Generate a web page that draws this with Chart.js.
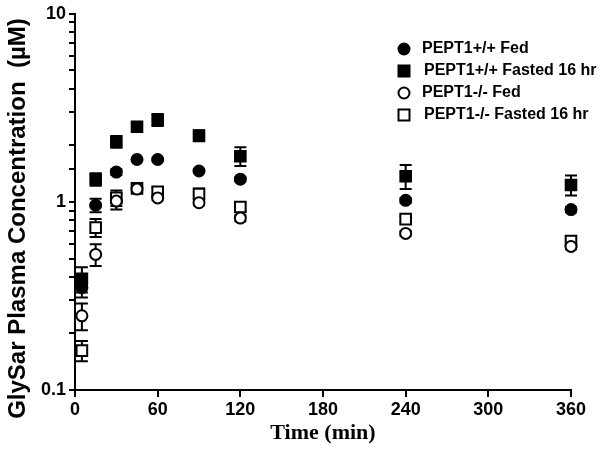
<!DOCTYPE html>
<html>
<head>
<meta charset="utf-8">
<script src="https://cdn.jsdelivr.net/npm/chart.js@4.4.0/dist/chart.umd.min.js"></script>
<style>
  html, body { margin: 0; padding: 0; background: #fff; }
</style>
</head>
<body>
<canvas id="chart" width="600" height="451"></canvas>
<script>
// sampling times (min)
const times = [5, 15, 30, 45, 60, 90, 120, 240, 360];
const xTicks = [0, 60, 120, 180, 240, 300, 360];

// GlySar plasma concentration (uM), mean and SE
const wtFed = [0.35, 0.96, 1.44, 1.68, 1.68, 1.46, 1.32, 1.02, 0.91];
const wtFedErr = [0.04, 0.08, 0.05, 0.03, 0.03, 0.03, 0.03, 0.03, 0.03];
const wtFasted = [0.39, 1.32, 2.09, 2.51, 2.73, 2.25, 1.75, 1.37, 1.23];
const wtFastedErr = [0.06, 0.1, 0.15, 0.1, 0.2, 0.15, 0.2, 0.2, 0.15];
const koFed = [0.248, 0.526, 1.01, 1.17, 1.05, 0.99, 0.82, 0.68, 0.58];
const koFedErr = [0.04, 0.07, 0.1, 0.05, 0.03, 0.03, 0.03, 0.02, 0.02];
const koFasted = [0.162, 0.73, 1.05, 1.18, 1.13, 1.10, 0.94, 0.81, 0.62];
const koFastedErr = [0.02, 0.08, 0.1, 0.05, 0.06, 0.08, 0.05, 0.03, 0.03];

const labels = ['PEPT1+/+ Fed', 'PEPT1+/+ Fasted 16 hr', 'PEPT1-/- Fed', 'PEPT1-/- Fasted 16 hr'];

function pts(vals) {
    return times.map((t, i) => ({ x: t, y: vals[i] }));
}

function series(label, vals, errs, style, filled) {
    return {
        label: label,
        data: pts(vals),
        errors: errs,
        clip: false,
        pointStyle: style,
        pointRadius: style === 'rect' ? 7.5 : 5.5,
        pointBackgroundColor: filled ? '#000' : '#fff',
        pointBorderColor: '#000',
        pointBorderWidth: 2,
        showLine: false
    };
}

// vertical error bars with caps, drawn under the markers
const errorBars = {
    id: 'errorBars',
    beforeDatasetsDraw(chart) {
        const { ctx, scales: { x, y } } = chart;
        ctx.save();
        ctx.strokeStyle = '#000';
        ctx.lineWidth = 2;
        chart.data.datasets.forEach(ds => {
            ds.data.forEach((p, i) => {
                const e = ds.errors[i];
                const px = x.getPixelForValue(p.x);
                const top = y.getPixelForValue(p.y + e);
                const bot = y.getPixelForValue(p.y - e);
                ctx.beginPath();
                ctx.moveTo(px, top); ctx.lineTo(px, bot);
                ctx.moveTo(px - 6, top); ctx.lineTo(px + 6, top);
                ctx.moveTo(px - 6, bot); ctx.lineTo(px + 6, bot);
                ctx.stroke();
            });
        });
        ctx.restore();
    }
};

// legend inside the plot, top right
const innerLegend = {
    id: 'innerLegend',
    afterDraw(chart) {
        const ctx = chart.ctx;
        ctx.save();
        ctx.font = 'bold 16px "Liberation Sans", Arial, sans-serif';
        ctx.textBaseline = 'middle';
        ctx.lineWidth = 2;
        chart.data.datasets.forEach((ds, i) => {
            const mx = 404, my = 49 + i * 22;
            ctx.beginPath();
            if (ds.pointStyle === 'rect') {
                ctx.rect(mx - 5.5, my - 5.5, 11, 11);
            } else {
                ctx.arc(mx, my, 5.5, 0, Math.PI * 2);
            }
            ctx.fillStyle = ds.pointBackgroundColor;
            ctx.fill();
            ctx.strokeStyle = '#000';
            ctx.stroke();
            ctx.fillStyle = '#000';
            ctx.fillText(ds.label, ds.pointStyle === 'rect' ? 424 : 422, my);
        });
        ctx.restore();
    }
};

new Chart(document.getElementById('chart'), {
    type: 'scatter',
    data: {
        datasets: [
            series(labels[0], wtFed, wtFedErr, 'circle', true),
            series(labels[1], wtFasted, wtFastedErr, 'rect', true),
            series(labels[2], koFed, koFedErr, 'circle', false),
            series(labels[3], koFasted, koFastedErr, 'rect', false)
        ]
    },
    options: {
        responsive: false,
        animation: false,
        layout: { padding: { top: 10, right: 29, left: 0, bottom: 0 } },
        plugins: {
            legend: { display: false },
            tooltip: { enabled: false }
        },
        scales: {
            x: {
                type: 'linear',
                min: 0,
                max: 360,
                afterBuildTicks: axis => { axis.ticks = xTicks.map(v => ({ value: v })); },
                grid: { drawOnChartArea: false, tickLength: 7, color: '#000', lineWidth: 2 },
                border: { color: '#000', width: 2 },
                ticks: {
                    color: '#000',
                    padding: 2,
                    font: { family: '"Liberation Sans", Arial, sans-serif', size: 18, weight: 'bold' }
                },
                title: {
                    display: true,
                    text: 'Time (min)',
                    color: '#000',
                    padding: { top: 6 },
                    font: { family: '"Liberation Serif", "Times New Roman", serif', size: 22, weight: 'bold' }
                },
                afterFit: axis => { axis.height = 61; }
            },
            y: {
                type: 'logarithmic',
                min: 0.1,
                max: 10,
                grid: { drawOnChartArea: false, tickLength: 6, color: '#000', lineWidth: 2 },
                border: { color: '#000', width: 2 },
                ticks: {
                    color: '#000',
                    autoSkip: false,
                    padding: 3,
                    font: { family: '"Liberation Sans", Arial, sans-serif', size: 18, weight: 'bold' },
                    callback: v => {
                        const l = Math.log10(v);
                        return Math.abs(l - Math.round(l)) < 1e-6 ? String(v) : '';
                    }
                },
                title: {
                    display: true,
                    text: 'GlySar Plasma Concentration  (\u00b5M)     ',
                    color: '#000',
                    padding: { bottom: 1 },
                    font: { family: '"Liberation Sans", Arial, sans-serif', size: 24, weight: 'bold' }
                },
                afterFit: axis => { axis.width = 75; }
            }
        }
    },
    plugins: [errorBars, innerLegend]
});
</script>
</body>
</html>
